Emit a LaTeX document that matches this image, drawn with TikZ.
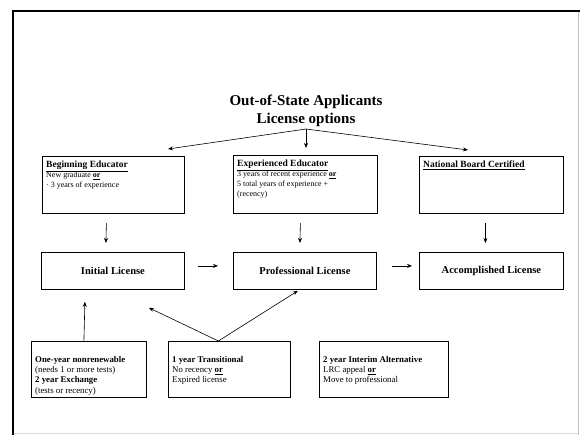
\documentclass[tikz,border=0pt]{standalone}
\usepackage{fontspec}
\setmainfont{Liberation Serif}
\usetikzlibrary{arrows.meta}
\begin{document}
\begin{tikzpicture}[x=1pt,y=-1pt,
  box/.style={draw,line width=0.8pt,inner sep=0pt,anchor=north west},
  arr/.style={line width=0.6pt,-{Stealth[length=5pt,width=4pt]}},
  bodyf/.style={font=\fontsize{8}{9.8}\selectfont},
  botf/.style={font=\fontsize{8.8}{10.3}\selectfont},
  lic/.style={box,font=\bfseries\fontsize{10.5}{12}\selectfont,align=center}]
\useasboundingbox (0,0) rectangle (580,435);
\fill[white] (0,0) rectangle (580,435);
% frame
\draw[line width=1.8pt] (580,11) -- (13,11) -- (13,435);
\draw[black!25,line width=0.6pt] (578,12) -- (578,435);
\draw[black!15,line width=0.6pt] (14,433) -- (578,433);
% title
\node[font=\bfseries\fontsize{15}{17.5}\selectfont,align=center] (title) at (306,111) {Out-of-State Applicants\\License options};
\coordinate (apex) at (306,129);
% top boxes
\node[box,minimum width=142pt,minimum height=57pt] (be) at (42,156) {};
\node[anchor=north west,bodyf,align=left,inner sep=0pt] (bet) at (46,161) {\fontsize{9.5}{11}\selectfont\bfseries\underline{Beginning Educator}\\New graduate \underline{\textbf{or}}\\\textperiodcentered\ 3 years of experience};
\node[box,minimum width=144pt,minimum height=58pt] (ee) at (233,155) {};
\node[anchor=north west,bodyf,align=left,inner sep=0pt] (eet) at (237,160) {\fontsize{9.5}{11}\selectfont\bfseries\underline{Experienced Educator}\\3 years of recent experience \underline{\textbf{or}}\\5 total years of experience +\\(recency)};
\node[box,minimum width=144pt,minimum height=57pt] (nb) at (419,156) {};
\node[anchor=north west,bodyf,align=left,inner sep=0pt] (nbt) at (423,161) {\fontsize{9.5}{11}\selectfont\bfseries\underline{National Board Certified}};
% license boxes
\node[lic,minimum width=143pt,minimum height=37pt] (il) at (41,252) {Initial License};
\node[lic,minimum width=143pt,minimum height=37pt] (pl) at (233,252) {Professional License};
\node[lic,minimum width=144pt,minimum height=37pt] (al) at (419,252) {Accomplished License};
% bottom boxes
\node[box,minimum width=115pt,minimum height=56pt] (b1) at (31,341) {};
\node[anchor=north west,botf,align=left,inner sep=0pt] (b1t) at (35,356) {\textbf{One-year nonrenewable}\\(needs 1 or more tests)\\\textbf{2 year Exchange}\\(tests or recency)};
\node[box,minimum width=122pt,minimum height=56pt] (b2) at (168,341) {};
\node[anchor=north west,botf,align=left,inner sep=0pt] (b2t) at (172,356) {\textbf{1 year Transitional}\\No recency \underline{\textbf{or}}\\Expired license};
\node[box,minimum width=129pt,minimum height=56pt] (b3) at (319,341) {};
\node[anchor=north west,botf,align=left,inner sep=0pt] (b3t) at (323,356) {\textbf{2 year Interim Alternative}\\LRC appeal \underline{\textbf{or}}\\Move to professional};
% arrows from title
\coordinate (t1) at (168,149);
\coordinate (t2) at (306,148);
\coordinate (t3) at (468,150);
\draw[arr] (apex) -- (t1);
\draw[arr] (apex) -- (t2);
\draw[arr] (apex) -- (t3);
% down arrows
\draw[arr] ([xshift=-7pt,yshift=-9pt]be.south) -- ([xshift=-7pt,yshift=9pt]il.north);
\draw[arr] ([xshift=-5pt,yshift=-9pt]ee.south) -- ([xshift=-5pt,yshift=9pt]pl.north);
\draw[arr] ([xshift=-6pt,yshift=-9pt]nb.south) -- ([xshift=-6pt,yshift=9pt]al.north);
% horizontal arrows
\draw[arr] ([xshift=13pt,yshift=5pt]il.east) -- ([xshift=-15pt,yshift=5pt]pl.west);
\draw[arr] ([xshift=15pt,yshift=5pt]pl.east) -- ([xshift=-7pt,yshift=5pt]al.west);
% bottom arrows
\draw[arr] ([xshift=-5pt]b1.north) -- ([xshift=-28pt,yshift=-12pt]il.south);
\coordinate (b2top) at ([xshift=-11pt]b2.north);
\draw[arr] (b2top) -- ([xshift=36pt,yshift=-18pt]il.south);
\draw[arr] (b2top) -- ([xshift=-7pt,yshift=-1pt]pl.south);
\end{tikzpicture}
\end{document}
